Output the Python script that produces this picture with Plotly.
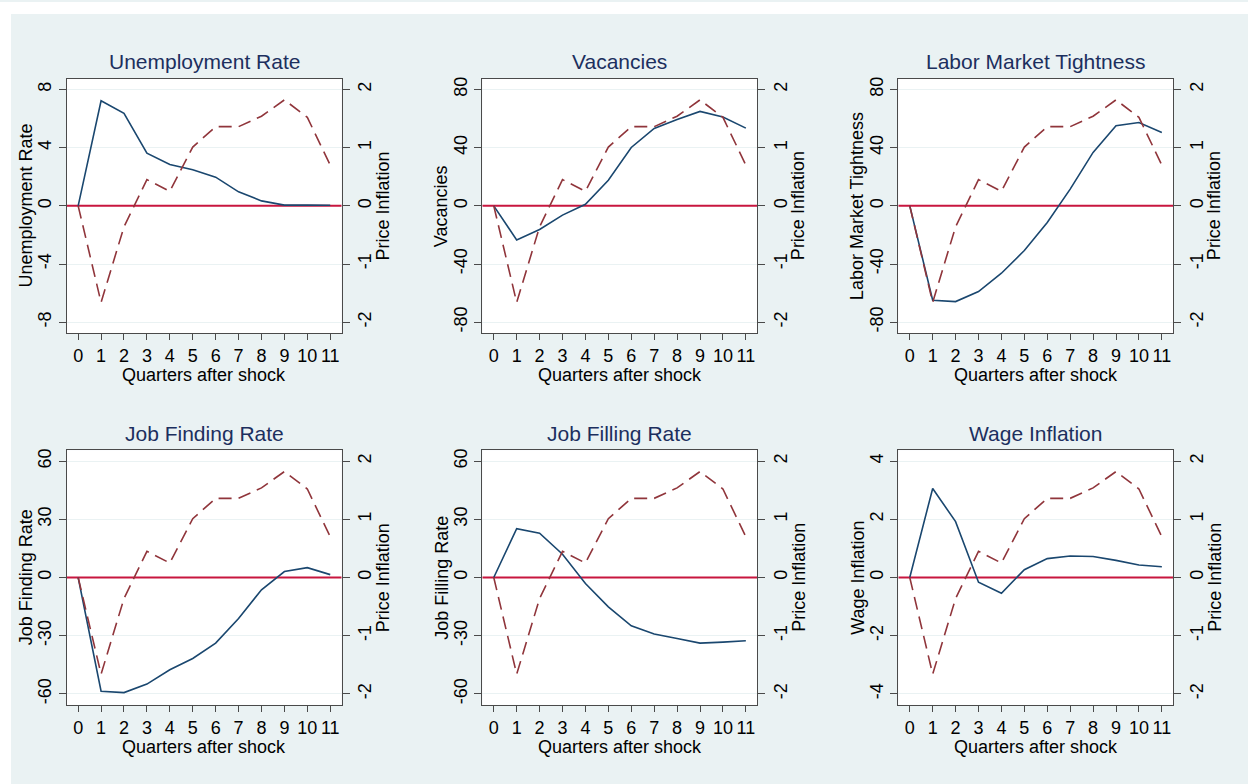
import plotly.graph_objects as go

quarters = list(range(12))

price_inflation = [0, -1.66, -0.36, 0.45, 0.25, 1.01, 1.36, 1.36, 1.54, 1.82, 1.52, 0.70]

unemployment = [0, 7.22, 6.35, 3.62, 2.84, 2.48, 1.97, 0.96, 0.34, 0.05, 0.05, 0.04]
vacancies = [0, -23.4, -16.3, -6.4, 1.1, 17.6, 40.1, 53.2, 59.4, 64.9, 61.0, 53.4]
tightness = [0, -64.9, -65.8, -58.9, -46.3, -30.7, -11.5, 11.5, 36.7, 55.0, 57.3, 50.4]
job_finding = [0, -58.6, -59.3, -54.9, -47.5, -41.7, -33.8, -21.1, -6.3, 3.1, 5.1, 1.5]
job_filling = [0, 25.2, 22.8, 12.0, -3.1, -15.1, -24.9, -29.1, -31.4, -33.8, -33.3, -32.6]
wage_inflation = [0, 3.06, 1.92, -0.16, -0.54, 0.27, 0.65, 0.74, 0.72, 0.59, 0.43, 0.37]

titles = ["Unemployment Rate", "Vacancies", "Labor Market Tightness",
          "Job Finding Rate", "Job Filling Rate", "Wage Inflation"]
series = [unemployment, vacancies, tightness, job_finding, job_filling, wage_inflation]
left_ticks = [[-8, -4, 0, 4, 8], [-80, -40, 0, 40, 80], [-80, -40, 0, 40, 80],
              [-60, -30, 0, 30, 60], [-60, -30, 0, 30, 60], [-4, -2, 0, 2, 4]]
right_ticks = [-2, -1, 0, 1, 2]
x_title = "Quarters after shock"
right_title = "Price Inflation"
reference_level = 0

W, H = 1248, 784
BG = "#EAF2F3"
NAVY = "#1a476f"
MAROON = "#90353b"
ZERO = "#c8163f"
AXC = "#4a4a4a"
FONT = "Liberation Sans, Arial, sans-serif"
TICK_SIZE = 18

col_px = [(66.7, 341.7), (482.3, 757.3), (898.3, 1173.3)]
row_px = [(76.7, 332.0), (449.3, 704.7)]

fig = go.Figure()
layout = dict(
    width=W, height=H,
    margin=dict(l=0, r=0, t=0, b=0),
    paper_bgcolor=BG, plot_bgcolor="white",
    showlegend=False,
    font=dict(family=FONT, size=TICK_SIZE, color="black"),
)
annotations = []
shapes = []

for i in range(6):
    r, c = divmod(i, 3)
    n = i + 1
    xl, xr = col_px[c]
    yt, yb = row_px[r]
    xd = [xl / W, xr / W]
    yd = [1 - yb / H, 1 - yt / H]
    lt = left_ticks[i]
    lmax = lt[-1]
    rng = [-lmax * 1.09375, lmax * 1.09375]
    rrng = [-2 * 1.09375, 2 * 1.09375]
    xrange_ = [-0.5, 11.5]
    xname = "x" if n == 1 else f"x{n}"
    yname = "y" if n == 1 else f"y{n}"
    y2name = f"y{n + 6}"

    # zero reference line (drawn first so the series sit on top of it)
    fig.add_trace(go.Scatter(x=xrange_, y=[reference_level, reference_level],
                             mode="lines", line=dict(color=ZERO, width=2),
                             xaxis=xname, yaxis=yname, hoverinfo="skip"))
    fig.add_trace(go.Scatter(x=quarters, y=price_inflation, mode="lines",
                             line=dict(color=MAROON, width=1.6, dash="13px,7px"),
                             xaxis=xname, yaxis=y2name))
    fig.add_trace(go.Scatter(x=quarters, y=series[i], mode="lines",
                             line=dict(color=NAVY, width=1.6),
                             xaxis=xname, yaxis=yname))

    layout[f"xaxis{n}"] = dict(
        domain=xd, anchor=yname, range=xrange_,
        tickvals=quarters, ticktext=[str(q) for q in quarters],
        ticks="outside", ticklen=6, tickcolor=AXC,
        showline=True, linecolor=AXC, linewidth=1.3, mirror=True,
        showgrid=False, zeroline=False, fixedrange=True,
        tickfont=dict(size=TICK_SIZE, color="black"),
    )
    layout[f"yaxis{n}"] = dict(
        domain=yd, anchor=xname, range=rng,
        tickvals=lt, ticktext=[str(v) for v in lt],
        tickangle=-90, ticks="outside", ticklen=7, tickcolor=AXC,
        showline=True, linecolor=AXC, linewidth=1.3,
        showgrid=True, gridcolor=BG, gridwidth=1.3, zeroline=False,
        tickfont=dict(size=TICK_SIZE, color="black"),
    )
    layout[f"yaxis{n + 6}"] = dict(
        overlaying=yname, side="right", anchor=xname, range=rrng,
        tickvals=right_ticks, ticktext=[str(v) for v in right_ticks],
        tickangle=-90, ticks="outside", ticklen=7,
        tickcolor=AXC, showline=True, linecolor=AXC, linewidth=1.3,
        showgrid=False, zeroline=False,
        tickfont=dict(size=TICK_SIZE, color="black"),
    )

    cx = (xl + xr) / 2 / W
    annotations.append(dict(text=titles[i], x=cx, y=1 - (yt - 17) / H,
                            xref="paper", yref="paper", showarrow=False,
                            xanchor="center", yanchor="middle",
                            font=dict(size=21, color="#1c2f5e")))
    annotations.append(dict(text=x_title, x=cx, y=1 - (yb + 42) / H,
                            xref="paper", yref="paper", showarrow=False,
                            xanchor="center", yanchor="middle",
                            font=dict(size=18, color="black")))
    cy = 1 - (yt + yb) / 2 / H
    annotations.append(dict(text=titles[i], x=(xl - 41) / W, y=cy,
                            xref="paper", yref="paper", showarrow=False,
                            textangle=-90, xanchor="center", yanchor="middle",
                            font=dict(size=18, color="black")))
    annotations.append(dict(text=right_title, x=(xr + 41) / W, y=cy,
                            xref="paper", yref="paper", showarrow=False,
                            textangle=-90, xanchor="center", yanchor="middle",
                            font=dict(size=18, color="black")))

# white outer strips (top and left)
shapes.append(dict(type="rect", xref="paper", yref="paper", x0=0, x1=11 / W,
                   y0=0, y1=1, fillcolor="white", line=dict(width=0), layer="above"))
shapes.append(dict(type="rect", xref="paper", yref="paper", x0=0, x1=1,
                   y0=1 - 12 / H, y1=1, fillcolor="white", line=dict(width=0), layer="above"))

layout["annotations"] = annotations
layout["shapes"] = shapes
fig.update_layout(**layout)
fig.write_html("out.html")
